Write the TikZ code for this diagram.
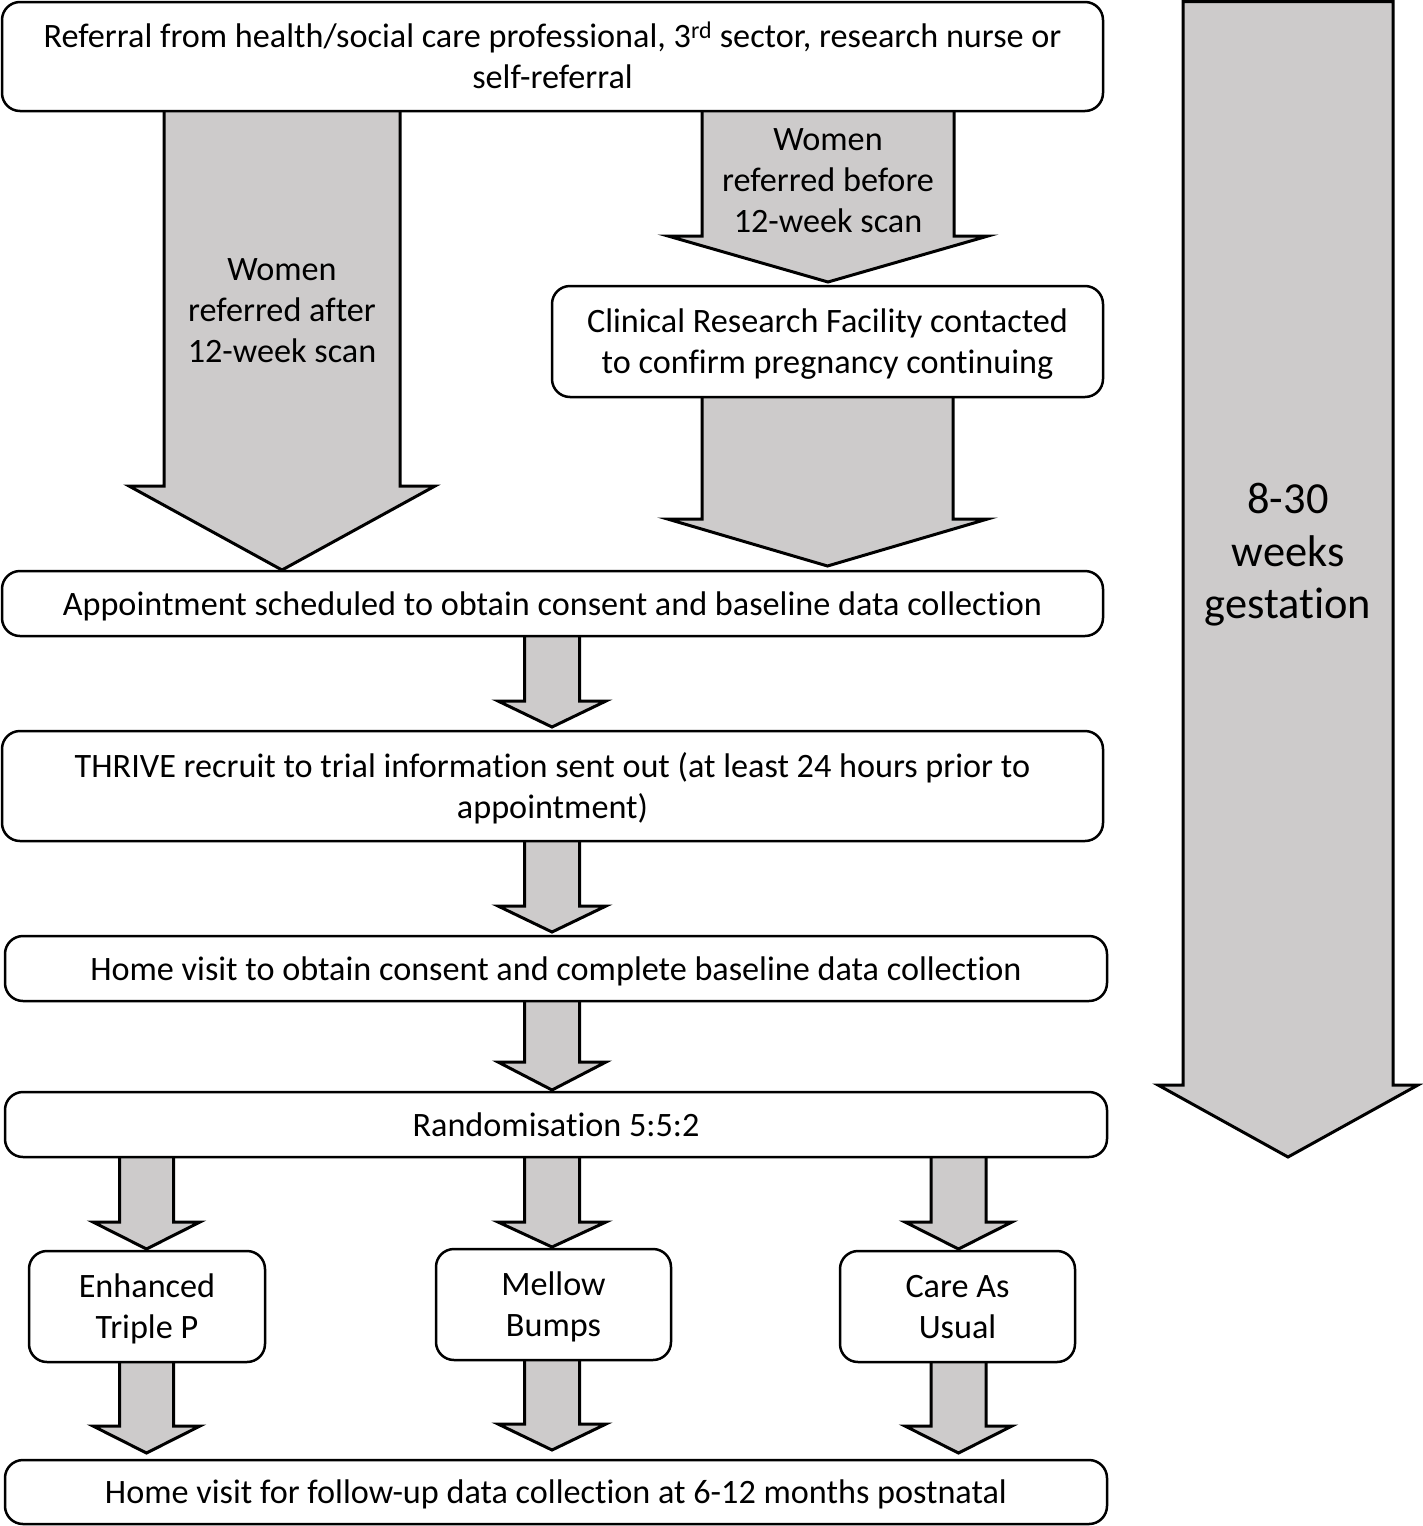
\documentclass[tikz,border=0pt]{standalone}
\usepackage{fontspec}
\setmainfont[Ligatures={NoCommon}]{Carlito}
\usetikzlibrary{calc,backgrounds}
\definecolor{arrowgray}{RGB}{205,203,203}
\tikzset{
  box/.style={draw=black, line width=2.5pt, rounded corners=18pt, fill=white,
    inner sep=0pt, outer sep=0pt, align=center,
    font=\fontsize{34.2}{41}\selectfont,
    execute at begin node={\rule{0pt}{30pt}},
    execute at end node={\rule[-7pt]{0pt}{7pt}}},
  boxtwo/.style={box, execute at begin node={\rule{0pt}{71pt}}},
  barrowstyle/.style={draw=black, fill=arrowgray, line width=3pt, line join=miter},
  arrowtext/.style={inner sep=0pt, align=center, font=\fontsize{34.2}{41}\selectfont},
  bigtext/.style={inner sep=0pt, align=center, font=\fontsize{44.4}{52.5}\selectfont}
}
% block arrow: from node, to node, x centre, shaft half width, head half width, head length, gap
\newcommand\blockarr[7]{%
  \filldraw[barrowstyle] let \p1=(#1.south), \p2=(#2.north) in
    ({(#3-#4)*1pt},\y1) -- ({(#3-#4)*1pt},{\y2+(#6+#7)*1pt})
    -- ({(#3-#5)*1pt},{\y2+(#6+#7)*1pt}) -- ({#3*1pt},{\y2+#7*1pt})
    -- ({(#3+#5)*1pt},{\y2+(#6+#7)*1pt}) -- ({(#3+#4)*1pt},{\y2+(#6+#7)*1pt})
    -- ({(#3+#4)*1pt},\y1);
}
\begin{document}
\begin{tikzpicture}[x=1pt,y=-1pt]
\useasboundingbox (0,0) rectangle (1423,1526);

% boxes
\node[boxtwo, minimum width=1101pt, minimum height=109pt] (top) at (552.5,56.5)
  {Referral from health/social care professional, 3\textsuperscript{rd} sector, research nurse or\\ self-referral};
\node[boxtwo, minimum width=551pt, minimum height=111pt] (crf) at (827.5,341.5)
  {Clinical Research Facility contacted\\ to confirm pregnancy continuing};
\node[box, minimum width=1101pt, minimum height=65pt] (appt) at (552.5,603.5)
  {Appointment scheduled to obtain consent and baseline data collection};
\node[boxtwo, minimum width=1101pt, minimum height=110pt] (thrive) at (552.5,786)
  {THRIVE recruit to trial information sent out (at least 24 hours prior to\\ appointment)};
\node[box, minimum width=1102pt, minimum height=65pt] (home) at (556,968.5)
  {Home visit to obtain consent and complete baseline data collection};
\node[box, minimum width=1102pt, minimum height=65pt] (rand) at (556,1124.5)
  {Randomisation 5:5:2};
\node[boxtwo, minimum width=236pt, minimum height=111pt] (etp) at (147,1306.5)
  {Enhanced\\ Triple P};
\node[boxtwo, minimum width=235pt, minimum height=111pt] (mb) at (553.5,1304.5)
  {Mellow\\ Bumps};
\node[boxtwo, minimum width=235pt, minimum height=111pt] (cau) at (957.5,1306.5)
  {Care As\\ Usual};
\node[box, minimum width=1102pt, minimum height=64pt] (final) at (556,1492)
  {Home visit for follow-up data collection at 6-12 months postnatal};

% block arrows between boxes
\begin{scope}[on background layer]
\blockarr{top}{appt}{282}{118}{153}{84}{1}
\blockarr{top}{crf}{828}{126}{160}{46}{4}
\blockarr{crf}{appt}{827.5}{125.5}{160}{47}{5}
\blockarr{appt}{thrive}{552}{27.5}{54}{26}{4}
\blockarr{thrive}{home}{552}{27.5}{54}{26}{4}
\blockarr{home}{rand}{552}{27.5}{54}{28}{2}
\blockarr{rand}{etp}{146.5}{27}{53.5}{27}{2}
\blockarr{rand}{mb}{552}{27.5}{54}{25}{2}
\blockarr{rand}{cau}{958.5}{27.5}{53.5}{27}{2}
\blockarr{etp}{final}{146.5}{27}{53.5}{27}{7}
\blockarr{mb}{final}{552}{27.5}{54}{26}{10}
\blockarr{cau}{final}{958.5}{27.5}{53.5}{27}{7}
\end{scope}

% big timeline arrow
\filldraw[barrowstyle] (1183,1.5) -- (1393,1.5) -- (1393,1085) -- (1418,1085)
  -- (1288,1157) -- (1158,1085) -- (1183,1085) -- cycle;

% arrow labels
\node[arrowtext] (after) at (282,311) {Women\\ referred after\\ 12-week scan};
\node[arrowtext] (before) at (828,181) {Women\\ referred before\\ 12-week scan};
\node[bigtext] (weeks) at (1288,555) {8-30\\ weeks\\ gestation};
\end{tikzpicture}
\end{document}
